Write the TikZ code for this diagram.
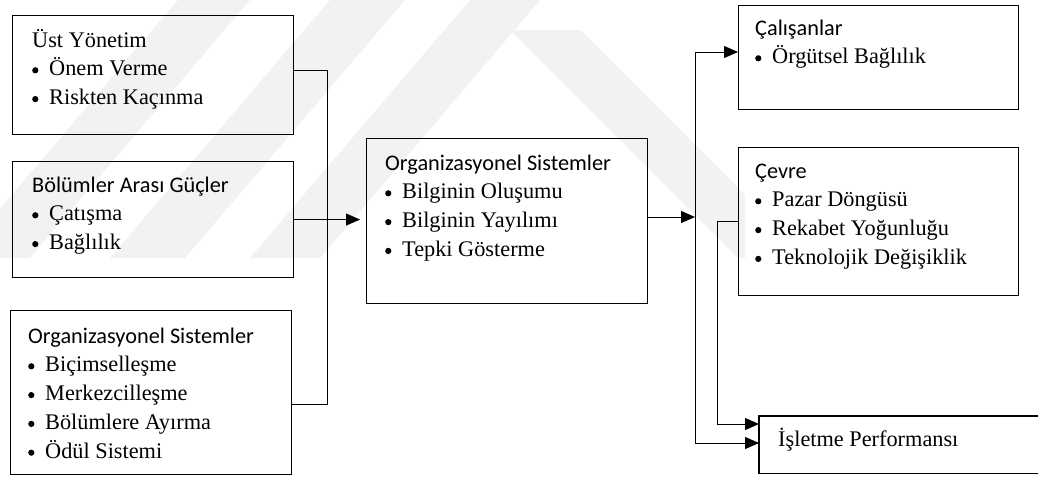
\documentclass[tikz,border=0pt]{standalone}
\usepackage{fontspec}
\setmainfont{Liberation Serif}
\newfontfamily\headfont{Carlito}
\usetikzlibrary{arrows.meta}
% round bullet with a fixed indent for list items
\newcommand\blt{\makebox[17pt][l]{\raisebox{2.4pt}{\tikz\fill[black] (0,0) circle [radius=3.1pt];}}}
\tikzset{
  box/.style={draw=black, line width=1.1pt, inner sep=0pt, anchor=north west},
  boxtext/.style={anchor=base west, inner sep=0pt, font=\fontsize{22.3}{28.8}\selectfont},
  link/.style={draw=black, line width=1pt},
  arr/.style={link, -{Triangle[length=14pt,width=12pt]}},
  wmband/.style={fill=black!5, draw=none}
}
\begin{document}
\begin{tikzpicture}[x=1pt,y=-1pt]
\useasboundingbox (0,0) rectangle (1038,477);
\fill[white] (0,0) rectangle (1038,477);

% faint background watermark stripes
\begin{scope}
  \clip (0,0) rectangle (745,258);
  \path[wmband] (178,0) -- (250,0) -- (30,258) -- (-42,258) -- cycle;
  \path[wmband] (330,0) -- (405,0) -- (185,258) -- (110,258) -- cycle;
  \path[wmband] (470,0) -- (540,0) -- (320,258) -- (250,258) -- cycle;
  \path[wmband] (510,30) -- (580,30) -- (808,258) -- (738,258) -- cycle;
\end{scope}

% left column
\node[box, minimum width=281pt, minimum height=119pt] (b1) at (12,15) {};
\node[boxtext] (t1) at (32,47) {\begin{tabular}[t]{@{}l@{}}Üst Yönetim\\ \blt Önem Verme\\ \blt Riskten Kaçınma\end{tabular}};

\node[box, minimum width=281pt, minimum height=116pt] (b2) at (12,161) {};
\node[boxtext] (t2) at (32,192) {\begin{tabular}[t]{@{}l@{}}{\headfont Bölümler Arası Güçler}\\ \blt Çatışma\\ \blt Bağlılık\end{tabular}};

\node[box, minimum width=281pt, minimum height=164pt] (b3) at (10,310) {};
\node[boxtext] (t3) at (28,343) {\begin{tabular}[t]{@{}l@{}}{\headfont Organizasyonel Sistemler}\\ \blt Biçimselleşme\\ \blt Merkezcilleşme\\ \blt Bölümlere Ayırma\\ \blt Ödül Sistemi\end{tabular}};

% centre
\node[box, minimum width=281pt, minimum height=165pt] (bc) at (366,138) {};
\node[boxtext] (tc) at (385,170) {\begin{tabular}[t]{@{}l@{}}{\headfont Organizasyonel Sistemler}\\ \blt Bilginin Oluşumu\\ \blt Bilginin Yayılımı\\ \blt Tepki Gösterme\end{tabular}};

% right column
\node[box, minimum width=280pt, minimum height=104pt] (bw) at (738,5) {};
\node[boxtext] (tw) at (755,35) {\begin{tabular}[t]{@{}l@{}}{\headfont Çalışanlar}\\ \blt Örgütsel Bağlılık\end{tabular}};

\node[box, minimum width=280pt, minimum height=148pt] (be) at (738,147) {};
\node[boxtext] (te) at (755,178) {\begin{tabular}[t]{@{}l@{}}{\headfont Çevre}\\ \blt Pazar Döngüsü\\ \blt Rekabet Yoğunluğu\\ \blt Teknolojik Değişiklik\end{tabular}};

\node[box, draw=none, minimum width=279pt, minimum height=56pt] (bp) at (759,416) {};
\draw[line width=1.1pt] (bp.north east) -- (bp.north west) -- (bp.south west) -- (bp.south east);
\node[boxtext] (tp) at (778,446) {İşletme Performansı};

% left bus collecting the three inputs
\coordinate (j1) at (327,70);
\coordinate (j3) at (327,404);
\draw[link] (b1.east |- j1) -- (j1) -- (j3) -- (b3.east |- j3);
\draw[arr, shorten >=6pt] (b2.east) -- (b2.east -| bc.west);

% right bus distributing the outputs
\coordinate (jr) at (695,217);
\coordinate (rt) at (695,52);
\coordinate (rb) at (695,443);
\draw[arr] (bc.east |- jr) -- (jr);
\draw[arr] (rb) -- (rt) -- (bw.west |- rt);
\draw[arr] (rt) -- (rb) -- (bp.west |- rb);

% environment feeds performance
\coordinate (k1) at (717,221);
\coordinate (k2) at (717,424);
\draw[arr] (be.west |- k1) -- (k1) -- (k2) -- (bp.west |- k2);
\end{tikzpicture}
\end{document}
